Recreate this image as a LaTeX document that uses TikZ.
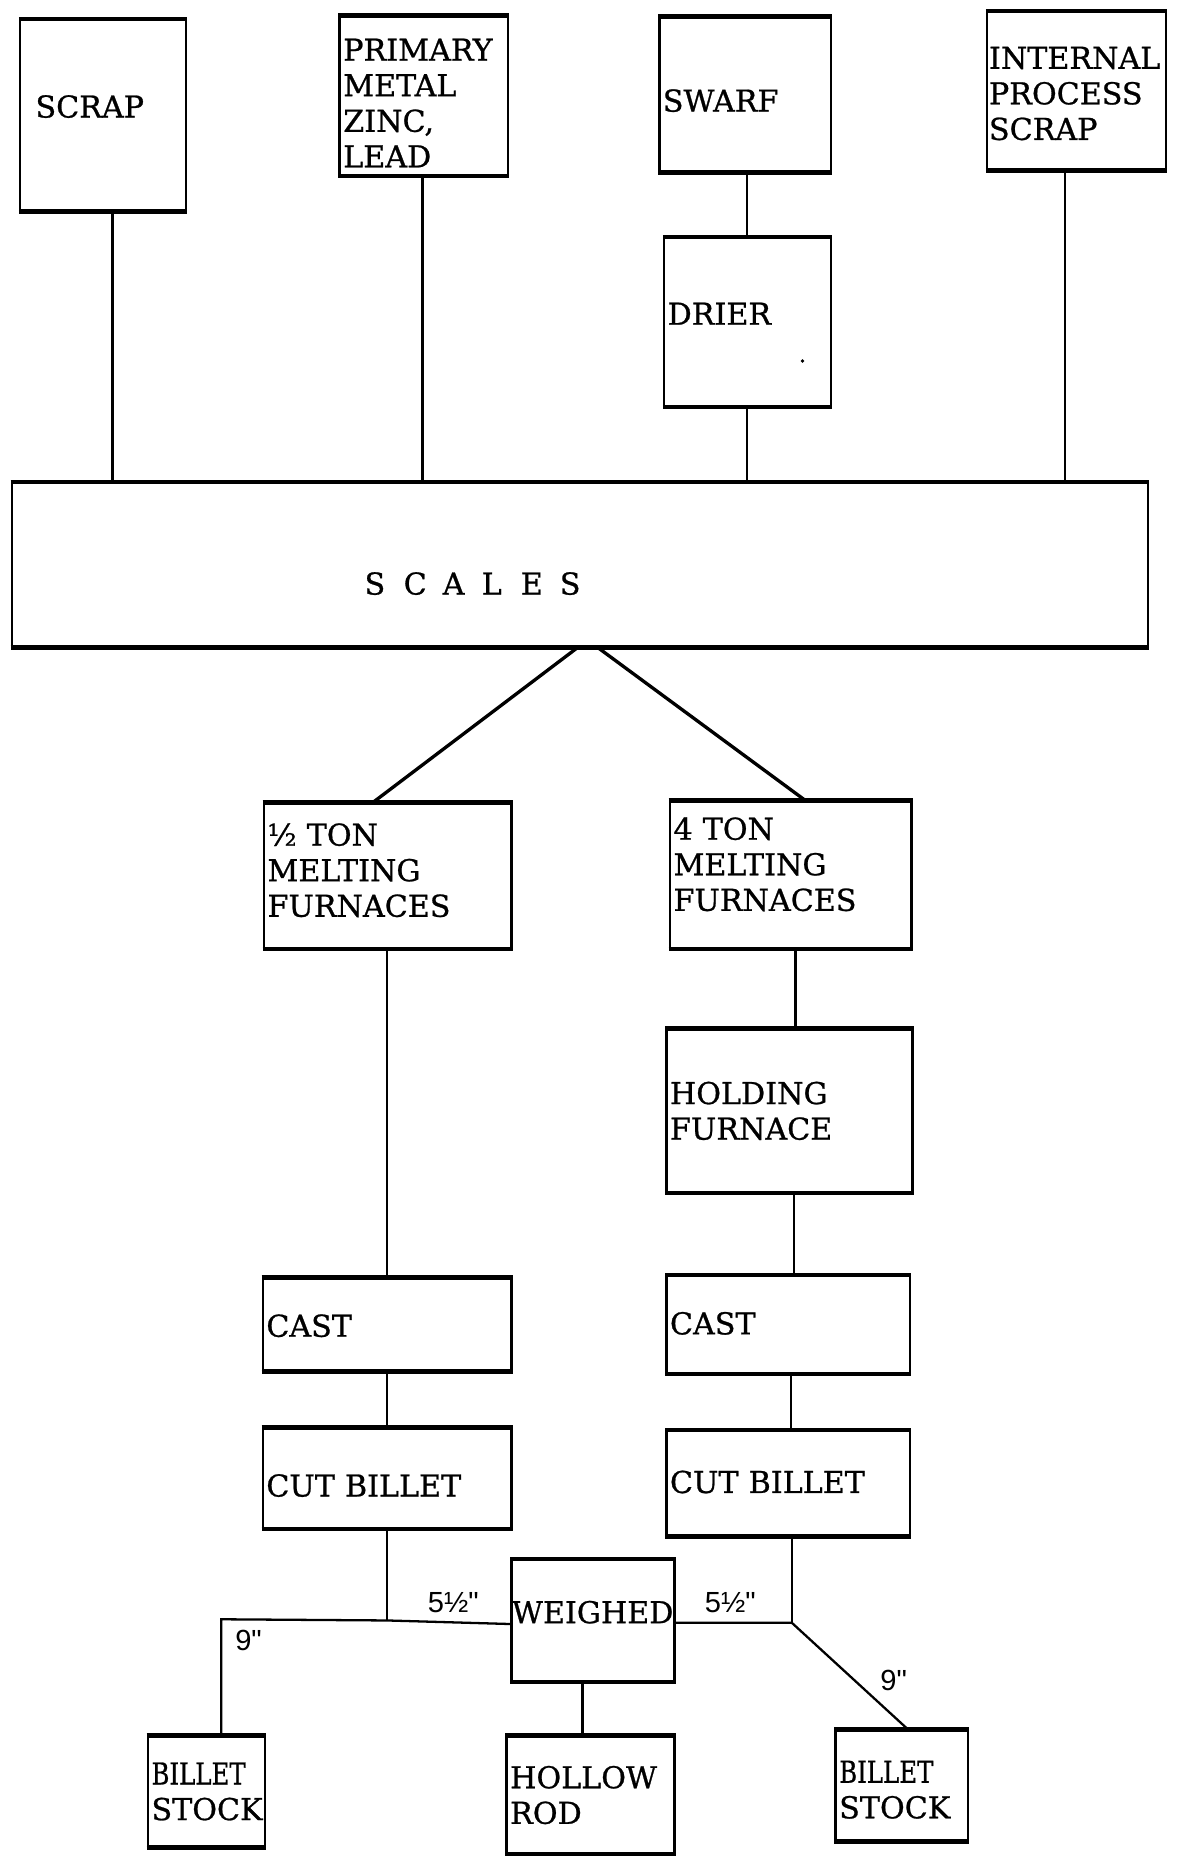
\documentclass[tikz,border=0pt]{standalone}
\usepackage{fontspec}
\usepackage{graphicx}
\newfontfamily\typ[FakeBold=0.8]{DejaVu Serif}
\newfontfamily\lbl{Liberation Sans}
\newcommand\spcd[1]{\makebox[0.66cm][l]{#1}}
\newcommand\lift[2]{\raisebox{#1}[0pt][0pt]{#2}}
\newcommand\narrow[1]{\scalebox{0.81}[1]{#1}}
\begin{document}
\begin{tikzpicture}[x=0.02cm,y=-0.02cm,
  box/.style={draw, line width=1.2pt, inner sep=0pt, inner xsep=0.06cm, align=left,
    font=\typ\fontsize{14.5}{17.1}\selectfont},
  link/.style={line width=1.1pt},
  dim/.style={font=\lbl\fontsize{14}{14}\selectfont, inner sep=0pt}]
\useasboundingbox (0,0) rectangle (995,1568);

% top sources
\node[box, inner xsep=0.26cm, minimum width=2.8cm, minimum height=3.22cm, text width=2.28cm] (scrap) at (87,97.5) {\lift{-0.036cm}{SCRAP}};
\node[box, minimum width=2.84cm, minimum height=2.68cm, text width=2.72cm] (primary) at (358,81) {\rule{0pt}{0.613cm}PRIMARY\\METAL\\ZINC,\\LEAD};
\node[box, minimum width=2.9cm, minimum height=2.6cm, text width=2.78cm] (swarf) at (629.5,80) {\lift{-0.286cm}{SWARF}};
\node[box, inner xsep=0.03cm, minimum width=3.02cm, minimum height=2.66cm, text width=2.96cm] (internal) at (909.5,76.5) {\rule{0pt}{0.473cm}INTERNAL\\PROCESS\\SCRAP};
\node[box, minimum width=2.82cm, minimum height=2.84cm, text width=2.7cm] (drier) at (631.5,272) {\lift{-0.046cm}{DRIER}};

% scales
\node[box, inner xsep=5.96cm, minimum width=19.2cm, minimum height=2.76cm, text width=7.28cm] (scales) at (490,477) {\lift{-0.506cm}{\spcd{S}\spcd{C}\spcd{A}\spcd{L}\spcd{E}S}};

% furnaces
\node[box, minimum width=4.18cm, minimum height=2.44cm, text width=4.06cm] (half) at (327.5,740) {½ TON\\MELTING\\FURNACES\rule[-0.2cm]{0pt}{0.2cm}};
\node[box, minimum width=4.08cm, minimum height=2.48cm, text width=3.96cm] (four) at (668,739) {4 TON\\MELTING\\FURNACES\rule[-0.36cm]{0pt}{0.36cm}};
\node[box, minimum width=4.16cm, minimum height=2.74cm, text width=4.04cm] (holding) at (667,938.5) {HOLDING\\FURNACE};

% cast / cut
\node[box, minimum width=4.2cm, minimum height=1.56cm, text width=4.08cm] (castL) at (327,1119) {\lift{-0.206cm}{CAST}};
\node[box, minimum width=4.12cm, minimum height=1.64cm, text width=4.0cm] (castR) at (666,1119) {\lift{-0.166cm}{CAST}};
\node[box, minimum width=4.2cm, minimum height=1.68cm, text width=4.08cm] (cutL) at (327,1249) {\lift{-0.306cm}{CUT BILLET}};
\node[box, minimum width=4.12cm, minimum height=1.76cm, text width=4.0cm] (cutR) at (666,1253) {\lift{-0.166cm}{CUT BILLET}};

% bottom
\node[box, inner xsep=0.01cm, minimum width=2.76cm, minimum height=2.04cm, text width=2.74cm] (weighed) at (501,1369) {\lift{-0.046cm}{WEIGHED}};
\node[box, minimum width=1.98cm, minimum height=1.86cm, text width=1.86cm] (stockL) at (174.5,1513.5) {\narrow{BILLET}\\STOCK};
\node[box, minimum width=2.84cm, minimum height=1.98cm, text width=2.72cm] (hollow) at (499,1516.5) {HOLLOW\\ROD};
\node[box, minimum width=2.24cm, minimum height=1.86cm, text width=2.12cm] (stockR) at (762,1508.5) {\rule{0pt}{0.513cm}\narrow{BILLET}\\STOCK};

% thicker top and bottom edges
\foreach \n in {scrap,primary,swarf,internal,drier,scales,half,four,holding,castL,castR,cutL,cutR,weighed,stockL,hollow,stockR}
  \draw[line width=2pt] (\n.north west) -- (\n.north east) (\n.south west) -- (\n.south east);

% connectors top
\draw[link] (95,0 |- scrap.south) -- (95,0 |- scales.north);
\draw[link] (357,0 |- primary.south) -- (357,0 |- scales.north);
\draw[link] (631,0 |- swarf.south) -- (631,0 |- drier.north);
\draw[link] (631,0 |- drier.south) -- (631,0 |- scales.north);
\draw[link] (900,0 |- internal.south) -- (900,0 |- scales.north);

% scales to furnaces
\draw[line width=1.6pt] (488,0 |- scales.south) -- (315,0 |- half.north);
\draw[line width=1.6pt] (505,0 |- scales.south) -- (680,0 |- four.north);

% vertical chains
\draw[link] (327,0 |- half.south) -- (327,0 |- castL.north);
\draw[link] (672,0 |- four.south) -- (672,0 |- holding.north);
\draw[link] (671,0 |- holding.south) -- (671,0 |- castR.north);
\draw[link] (327,0 |- castL.south) -- (327,0 |- cutL.north);
\draw[link] (668,0 |- castR.south) -- (668,0 |- cutR.north);

% junctions
\coordinate (jl) at (187,1368);
\coordinate (jm) at (327,1369);
\coordinate (jr) at (669,1371);
\draw[link] (327,0 |- cutL.south) -- (jm);
\draw[link] (187,0 |- stockL.north) -- (jl) -- (jm) -- (weighed.west |- 0,1372);
\draw[link] (669,0 |- cutR.south) -- (jr);
\draw[link] (weighed.east |- jr) -- (jr) -- (767,0 |- stockR.north);
\draw[link] (492,0 |- weighed.south) -- (492,0 |- hollow.north);

% dimension labels
\node[dim] (d1) at (383,1354) {5½"};
\node[dim] (d2) at (617,1354) {5½"};
\node[dim] (d3) at (210,1386) {9"};
\node[dim] (d4) at (755,1420) {9"};

% speck in drier
\fill (678,305) circle (1.6);
\end{tikzpicture}
\end{document}
